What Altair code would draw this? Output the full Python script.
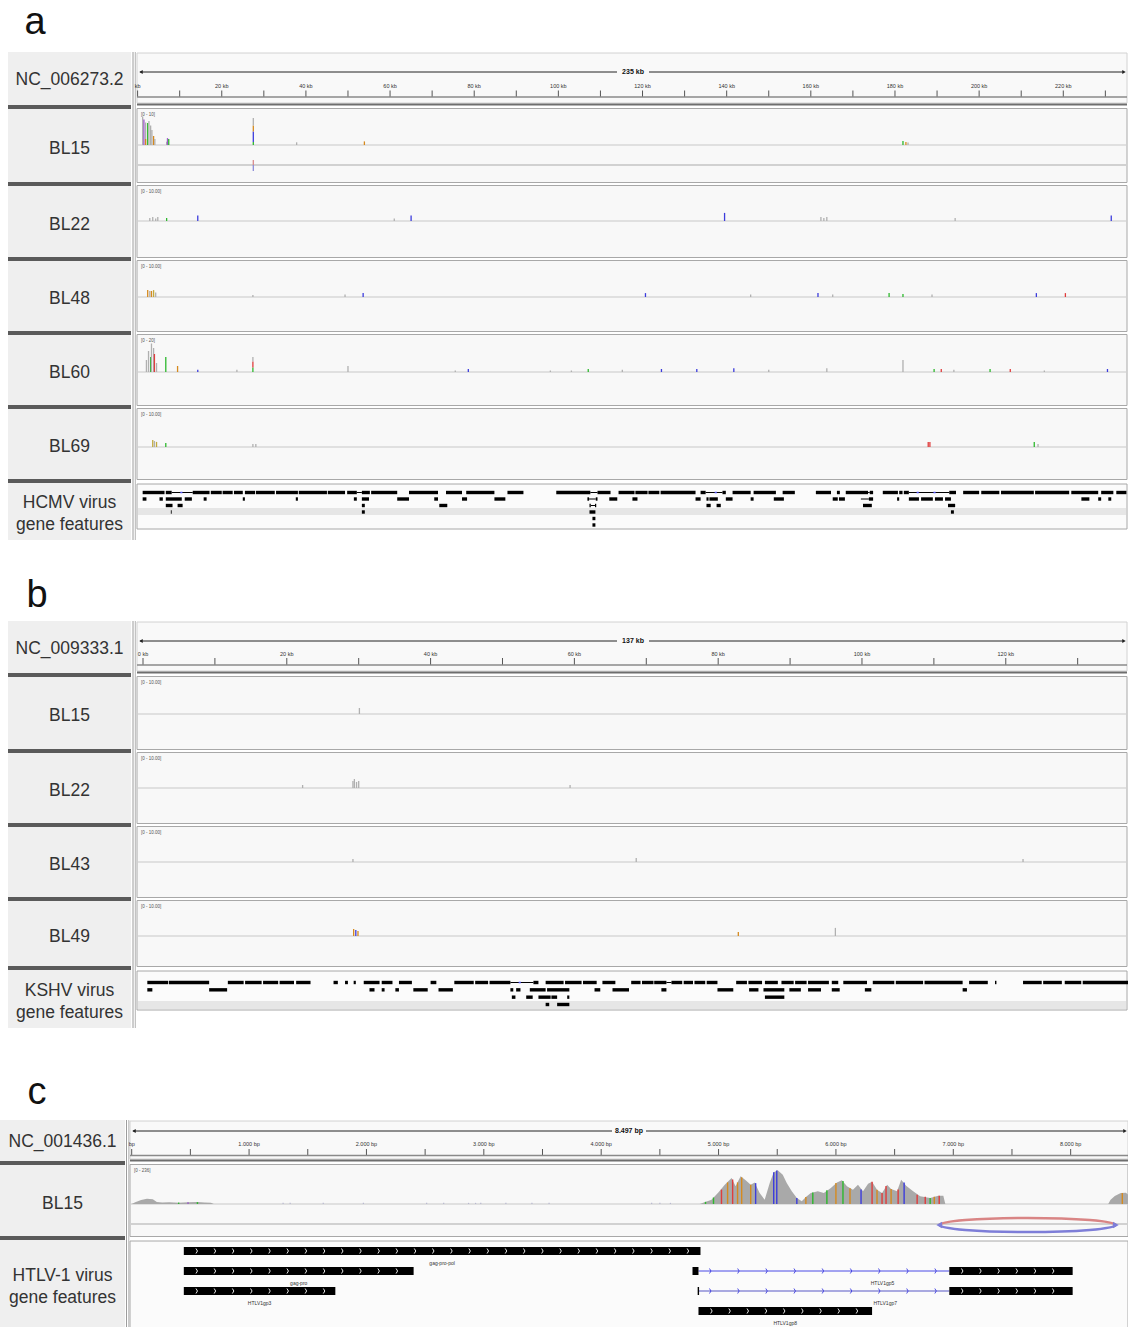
import altair as alt
import numpy as np
import pandas as pd

FONT = "Liberation Sans"
ONE = pd.DataFrame({"k": [0]})

BASE_COLORS = {"cov": "#b0b0b0", "A": "#2db82d", "C": "#3c3cdc", "G": "#d68a1e",
               "T": "#e03c3c", "P": "#9b59c9", "Y": "#c2a93a",
               "Tr": "#d98c8c", "Cr": "#8c8cd9", "S": "#b8b8d0"}

# ================= panel a : HCMV NC_006273.2 (positions in kb) =================
A_TICKS = [0, 10, 20, 30, 40, 50, 60, 70, 80, 90, 100, 110, 120, 130, 140, 150,
           160, 170, 180, 190, 200, 210, 220, 230]
A_LABEL_POS = [0, 20, 40, 60, 80, 100, 120, 140, 160, 180, 200, 220]
A_LABEL_TXT = ["kb", "20 kb", "40 kb", "60 kb", "80 kb", "100 kb", "120 kb",
               "140 kb", "160 kb", "180 kb", "200 kb", "220 kb"]

# (position kb, low, high, base)
A_BL15 = [(1.2, 0, 9.5, "cov"), (1.5, 0, 8.5, "P"), (1.9, 0, 7.5, "cov"), (1.9, 0, 2, "G"),
          (2.4, 0, 7.3, "A"), (2.7, 0, 8, "cov"),
          (3.1, 0, 6.5, "cov"), (3.4, 0, 5, "cov"), (3.8, 0, 3, "G"), (4.1, 0, 2, "cov"),
          (6.9, 0, 1.1, "cov"), (7.1, 0, 2.3, "P"), (7.4, 0, 2, "A"),
          (27.5, 0, 1, "A"), (27.5, 1, 4.5, "C"), (27.5, 4.5, 6.5, "G"), (27.5, 6.5, 9, "cov"),
          (37.8, 0, 0.9, "cov"), (53.9, 0, 1.2, "G"), (181.9, 0, 1.3, "A"),
          (182.6, 0, 1.0, "G"), (183.1, 0, 0.8, "cov"),
          (27.5, -5, -6.7, "Tr"), (27.5, -6.7, -8.7, "Cr")]
A_BL22 = [(2.9, 0, 1.0, "cov"), (3.6, 0, 1.3, "cov"), (4.3, 0, 0.8, "cov"), (4.8, 0, 1.3, "cov"),
          (6.9, 0, 1.0, "A"), (14.3, 0, 1.8, "C"), (61.0, 0, 0.8, "cov"), (65.0, 0, 1.8, "C"),
          (139.5, 0, 2.7, "C"), (162.4, 0, 1.3, "cov"), (163.1, 0, 1.0, "cov"),
          (163.8, 0, 1.3, "cov"), (194.3, 0, 1.0, "cov"), (231.4, 0, 1.8, "C")]
A_BL48 = [(2.4, 0, 2.3, "G"), (2.9, 0, 2.0, "cov"), (3.3, 0, 2.0, "G"), (3.8, 0, 2.3, "Y"),
          (4.3, 0, 1.5, "cov"), (27.4, 0, 0.7, "cov"), (49.3, 0, 0.8, "cov"), (53.6, 0, 1.3, "C"),
          (120.7, 0, 1.3, "C"), (145.7, 0, 0.8, "cov"), (161.7, 0, 1.3, "C"), (165.2, 0, 0.8, "cov"),
          (178.6, 0, 1.3, "A"), (181.9, 0, 1.0, "A"), (188.8, 0, 0.8, "cov"), (213.6, 0, 1.3, "C"),
          (220.5, 0, 1.3, "T")]
A_BL60 = [(2.1, 0, 8, "cov"), (2.6, 0, 14, "cov"), (3.1, 0, 10, "A"), (3.3, 0, 19, "cov"),
          (3.8, 0, 16, "cov"), (4.0, 0, 12, "T"), (4.5, 0, 6, "cov"), (6.7, 0, 10, "A"),
          (9.5, 0, 4, "G"), (14.3, 0, 1.5, "C"), (23.6, 0, 1.5, "cov"),
          (27.4, 0, 3, "A"), (27.4, 3, 7, "T"), (27.4, 7, 10, "cov"),
          (50.0, 0, 4, "cov"), (75.5, 0, 1, "cov"), (78.6, 0, 2, "C"), (98.1, 0, 1, "cov"),
          (103.1, 0, 1, "cov"), (107.1, 0, 2, "A"), (115.2, 0, 1.5, "cov"), (124.5, 0, 2, "C"),
          (132.9, 0, 2, "C"), (141.7, 0, 2.5, "C"), (150.0, 0, 1.5, "cov"), (163.8, 0, 2.5, "cov"),
          (181.9, 0, 8, "cov"), (189.3, 0, 2, "A"), (191.0, 0, 2, "T"), (194.0, 0, 1.5, "cov"),
          (202.6, 0, 2, "A"), (207.4, 0, 2, "T"), (215.5, 0, 1, "cov"), (230.5, 0, 2, "C")]
A_BL69 = [(3.6, 0, 2.3, "Y"), (4.0, 0, 2.0, "cov"), (4.5, 0, 1.7, "Y"), (6.7, 0, 1.3, "A"),
          (27.4, 0, 1, "cov"), (28.1, 0, 1, "cov"), (187.9, 0, 1.7, "T"), (188.3, 0, 1.7, "T"),
          (213.1, 0, 1.7, "A"), (214.0, 0, 1, "cov")]

A_FEAT_ROWS = [
    [(1.2, 6.4), (6.7, 8.1), (13.1, 17.1), (17.4, 20.0), (20.2, 22.6), (22.9, 25.0), (25.5, 27.9),
     (28.1, 32.6), (32.9, 38.1), (38.3, 45.0), (45.2, 49.3), (49.8, 52.1), (53.3, 55.2), (55.5, 61.7),
     (64.5, 71.4), (73.3, 77.1), (78.1, 84.8), (87.9, 91.7), (99.5, 107.6), (109.3, 112.4),
     (114.3, 118.1), (118.3, 121.2), (121.4, 124.0), (124.3, 132.6), (133.8, 135.0), (139.0, 139.8),
     (141.4, 145.7), (146.4, 151.7), (153.3, 156.2), (161.2, 164.8), (166.2, 166.9), (168.3, 173.6),
     (174.0, 174.8), (177.1, 180.7), (181.0, 181.8), (182.1, 183.3), (192.9, 194.5), (196.2, 200.0),
     (200.5, 204.8), (205.2, 213.0), (213.3, 221.4), (221.9, 228.3), (229.0, 231.9), (232.6, 235.0)],
    [(1.2, 2.1), (5.2, 6.0), (6.7, 10.5), (11.2, 12.9), (15.7, 16.4), (25.0, 25.5), (37.6, 38.1),
     (51.4, 52.1), (53.3, 55.0), (61.7, 64.5), (70.5, 71.4), (77.1, 78.3), (84.8, 87.4), (106.9, 107.3),
     (108.9, 109.3), (112.1, 114.0), (117.6, 118.8), (132.6, 133.8), (135.2, 135.7), (135.9, 137.9),
     (139.8, 141.4), (145.7, 146.4), (151.2, 153.6), (165.2, 166.4), (166.7, 168.1), (173.8, 174.8),
     (180.5, 181.0), (183.3, 185.7), (186.2, 189.0), (189.5, 191.4), (191.9, 193.3), (224.3, 226.2),
     (228.3, 229.0), (230.7, 231.4)],
    [(6.7, 8.3), (9.5, 10.7), (53.3, 54.0), (71.7, 73.6), (107.4, 107.7), (108.7, 109.0),
     (135.2, 136.2), (137.6, 138.6), (172.4, 174.5), (192.6, 194.3)],
    [(7.9, 8.1), (53.3, 54.0), (107.4, 108.8), (193.3, 194.0)],
    [(108.1, 108.8)],
    [(108.1, 108.8)],
]
A_INTRONS = [(8.1, 13.1, 0), (52.1, 53.3, 0), (107.6, 109.3, 0), (135.0, 139.0, 0), (173.6, 174.0, 0),
             (183.3, 192.9, 0), (107.3, 108.9, 1), (171.9, 173.8, 1), (107.7, 108.7, 2)]
A_STRAND_MARKS = [(10.4, 0), (137.4, 0), (185.4, 0), (189.4, 0)]

# ================= panel b : KSHV NC_009333.1 (kb) =================
B_TICKS = [0, 10, 20, 30, 40, 50, 60, 70, 80, 90, 100, 110, 120, 130]
B_LABEL_POS = [0, 20, 40, 60, 80, 100, 120]
B_LABEL_TXT = ["0 kb", "20 kb", "40 kb", "60 kb", "80 kb", "100 kb", "120 kb"]
B_BL15 = [(30.1, 0, 2.0, "cov")]
B_BL22 = [(22.2, 0, 1.0, "cov"), (29.2, 0, 2.3, "cov"), (29.4, 0, 3.0, "cov"), (29.7, 0, 2.0, "cov"),
          (30.0, 0, 2.3, "cov"), (59.4, 0, 1.0, "cov")]
B_BL43 = [(29.2, 0, 1.0, "cov"), (68.6, 0, 1.3, "cov"), (122.4, 0, 1.0, "cov")]
B_BL49 = [(29.3, 0, 2.3, "G"), (29.6, 0, 2.0, "C"), (29.9, 0, 1.7, "G"), (82.8, 0, 1.3, "G"),
          (96.3, 0, 2.7, "cov")]
B_FEAT_ROWS = [
    [(0.6, 3.5), (3.6, 9.2), (11.8, 14.0), (14.2, 16.5), (16.7, 18.8), (19.0, 21.0), (21.3, 23.3),
     (26.5, 27.1), (28.1, 28.5), (29.3, 29.6), (30.7, 32.9), (33.2, 34.7), (35.6, 37.4), (40.0, 40.8),
     (43.3, 46.0), (46.2, 48.0), (48.2, 51.1), (54.3, 55.0), (56.0, 58.5), (58.7, 61.0), (61.2, 63.1),
     (63.9, 65.7), (67.9, 69.2), (69.4, 71.0), (71.1, 72.8), (73.5, 75.0), (75.2, 76.5), (76.7, 78.2),
     (78.4, 79.9), (82.5, 84.0), (84.2, 86.1), (86.5, 88.3), (88.8, 90.5), (90.7, 92.3), (92.5, 95.4),
     (95.8, 96.7), (97.4, 100.7), (101.5, 104.5), (104.7, 108.5), (108.7, 114.0), (114.9, 117.5),
     (118.5, 118.7), (122.4, 125.0), (125.2, 127.8), (128.2, 130.5), (130.7, 137.0)],
    [(0.6, 1.3), (9.2, 11.7), (31.5, 32.2), (33.2, 33.6), (35.1, 35.6), (37.6, 39.6), (41.1, 43.1),
     (51.1, 51.5), (51.9, 52.5), (53.8, 56.0), (56.2, 59.3), (62.8, 63.6), (65.3, 67.6), (72.1, 72.8),
     (79.9, 82.1), (84.3, 85.6), (86.3, 89.2), (89.9, 91.5), (92.5, 94.3), (95.8, 96.9), (100.4, 101.3),
     (114.0, 114.6)],
    [(51.3, 51.8), (53.3, 54.2), (55.0, 56.7), (56.8, 57.6), (59.0, 59.3), (86.5, 89.2)],
    [(56.0, 56.5), (57.6, 59.3)],
]
B_INTRONS = [(51.1, 54.3, 0), (72.8, 73.5, 0)]
B_STRAND_MARKS = [(52.4, 0)]

# ================= panel c : HTLV-1 NC_001436.1 (bp) =================
C_TICKS = [0, 500, 1000, 1500, 2000, 2500, 3000, 3500, 4000, 4500, 5000, 5500, 6000,
           6500, 7000, 7500, 8000]
C_LABEL_POS = [0, 1000, 2000, 3000, 4000, 5000, 6000, 7000, 8000]
C_LABEL_TXT = ["bp", "1.000 bp", "2.000 bp", "3.000 bp", "4.000 bp", "5.000 bp",
               "6.000 bp", "7.000 bp", "8.000 bp"]
C_COV = [(0, 0), (30, 12), (80, 28), (130, 37), (180, 33), (214, 14), (260, 10), (320, 13), (400, 9),
         (480, 12), (560, 14), (620, 10), (675, 8), (700, 0),
         (4840, 0), (4863, 7), (4940, 30), (5000, 81), (5051, 132), (5111, 180), (5145, 123),
         (5188, 192), (5231, 164), (5274, 134), (5308, 150), (5350, 76), (5393, 30), (5436, 146),
         (5470, 220), (5504, 234), (5547, 203), (5581, 146), (5624, 88), (5667, 42), (5709, 19),
         (5744, 49), (5786, 76), (5846, 88), (5897, 76), (5957, 111), (6009, 150), (6051, 164),
         (6094, 123), (6145, 99), (6188, 134), (6231, 88), (6274, 141), (6308, 155), (6350, 99),
         (6393, 76), (6436, 134), (6470, 104), (6521, 88), (6556, 169), (6598, 127), (6658, 88),
         (6718, 53), (6803, 42), (6872, 58), (6915, 58), (6932, 0),
         (8320, 0), (8340, 30), (8376, 55), (8427, 76), (8470, 78), (8497, 60)]
C_MISMATCH = [(400, 0, 10, "A"), (480, 0, 12, "P"), (560, 0, 13, "A"),
              (4889, 0, 15, "A"), (4957, 0, 45, "A"), (5025, 0, 100, "T"), (5077, 0, 150, "G"),
              (5120, 0, 170, "T"), (5162, 0, 150, "G"), (5197, 0, 185, "G"), (5274, 0, 134, "G"),
              (5316, 0, 145, "C"), (5470, 0, 220, "C"), (5496, 0, 232, "C"), (5667, 0, 42, "C"),
              (5744, 0, 49, "G"), (5803, 0, 80, "A"), (5923, 0, 95, "A"), (6000, 0, 145, "G"),
              (6060, 0, 160, "A"), (6120, 0, 110, "G"), (6214, 0, 100, "C"), (6308, 0, 155, "T"),
              (6350, 0, 99, "G"), (6393, 0, 76, "T"), (6427, 0, 125, "T"), (6470, 0, 104, "G"),
              (6530, 0, 100, "T"), (6581, 0, 150, "C"), (6692, 0, 65, "T"), (6761, 0, 50, "T"),
              (6803, 0, 42, "A"), (6838, 0, 50, "G"), (6880, 0, 58, "T"), (8440, 0, 76, "G")]
C_SMALL = [(1290, 0, 8, "S"), (1350, 0, 8, "S"), (1632, 0, 8, "S"), (1974, 0, 8, "S"),
           (2513, 0, 8, "S"), (2658, 0, 8, "S"), (2870, 0, 8, "S"), (2930, 0, 8, "S"),
           (2974, 0, 8, "S"), (3188, 0, 8, "S"), (3410, 0, 8, "S"), (3556, 0, 8, "S"),
           (4430, 0, 8, "S"), (4500, 0, 8, "S"), (4590, 0, 8, "S")]
C_READ_PAIR = [(6880, 8385)]
C_BLOCKS = [(444, 4846, 0), (444, 2402, 1), (444, 1735, 2), (4778, 4829, 1), (6966, 8017, 1),
            (6966, 8017, 2), (4822, 4834, 2), (4829, 6308, 3)]
C_INTRONS = [(4829, 6966, 1), (4829, 6966, 2)]
C_NAMES = ["gag-pro-pol", "gag-pro", "HTLV1gp3", "HTLV1gp5", "HTLV1gp7", "HTLV1gp8"]
C_NAME_POS = [2645, 1423, 1090, 6397, 6420, 5568]
C_NAME_ROW = [0, 1, 2, 1, 2, 3]

# ================= scales =================
XA = alt.Scale(domain=[0, 235], range=[137.6, 1126.4], nice=False, zero=False)
XB = alt.Scale(domain=[0, 137], range=[143, 1128], nice=False, zero=False)
XC = alt.Scale(domain=[0, 8497], range=[131.7, 1129], nice=False, zero=False)

layers = []


def rect(x0, x1, y0, y1, fill, stroke=None, sw=1.0):
    props = {"fill": fill}
    if stroke is not None:
        props["stroke"] = stroke
        props["strokeWidth"] = sw
    else:
        props["strokeWidth"] = 0
    layers.append(alt.Chart(ONE).mark_rect(**props).encode(
        x=alt.value(x0), x2=alt.value(x1), y=alt.value(y0), y2=alt.value(y1)))


def hline(x0, x1, y, color, sw=1.0):
    layers.append(alt.Chart(ONE).mark_rule(color=color, strokeWidth=sw).encode(
        x=alt.value(x0), x2=alt.value(x1), y=alt.value(y)))


def vline(x, y0, y1, color, sw=1.0):
    layers.append(alt.Chart(ONE).mark_rule(color=color, strokeWidth=sw).encode(
        x=alt.value(x), y=alt.value(y0), y2=alt.value(y1)))


def label(x, y, s, size, color="#333333", weight="normal", align="center", baseline="middle"):
    layers.append(alt.Chart(ONE).mark_text(
        text=s, font=FONT, fontSize=size, color=color, fontWeight=weight,
        align=align, baseline=baseline).encode(x=alt.value(x), y=alt.value(y)))


def tri(x, y, shape, color, size=18):
    layers.append(alt.Chart(ONE).mark_point(shape=shape, filled=True, size=size, color=color,
                                            opacity=1).encode(x=alt.value(x), y=alt.value(y)))


def coverage(bars, xs, ymax, base, px=30, sw=1.3):
    df = pd.DataFrame(bars, columns=["pos", "lo", "hi", "b"])
    df["col"] = df["b"].map(BASE_COLORS)
    layers.append(alt.Chart(df).mark_rule(strokeWidth=sw).encode(
        x=alt.X("pos:Q", scale=xs, axis=None),
        y=alt.Y("hi:Q", scale=alt.Scale(domain=[0, ymax], range=[base, base - px],
                                         nice=False, zero=False), axis=None),
        y2="lo:Q",
        color=alt.Color("col:N", scale=None)))


def rows_scale(nrows, ylo, yhi):
    return alt.Scale(domain=[0, nrows - 1], range=[ylo, yhi], nice=False, zero=False)


def feats(blocks, xs, ys, sw, color="#000000"):
    df = pd.DataFrame(blocks, columns=["s", "e", "row"])
    layers.append(alt.Chart(df).mark_rule(strokeWidth=sw, color=color, strokeCap="butt").encode(
        x=alt.X("s:Q", scale=xs, axis=None), x2="e:Q",
        y=alt.Y("row:Q", scale=ys, axis=None)))


def ruler(xs, ticks, lpos, ltxt, title, title_x, y_arrow, y_lab, y_t0, y_t1, dx0, dx1, gap):
    hline(dx0 + 3, title_x - gap, y_arrow, "#222222", 1)
    hline(title_x + gap, dx1 - 3, y_arrow, "#222222", 1)
    tri(dx0 + 4, y_arrow, "triangle-left", "#222222", 16)
    tri(dx1 - 3, y_arrow, "triangle-right", "#222222", 16)
    label(title_x, y_arrow, title, 7, "#111111", "bold")
    layers.append(alt.Chart(pd.DataFrame({"p": ticks})).mark_rule(color="#555555", strokeWidth=1).encode(
        x=alt.X("p:Q", scale=xs, axis=None), y=alt.value(y_t0), y2=alt.value(y_t1)))
    layers.append(alt.Chart(pd.DataFrame({"p": lpos, "t": ltxt})).mark_text(
        font=FONT, fontSize=5.5, color="#333333", baseline="middle").encode(
        x=alt.X("p:Q", scale=xs, axis=None), y=alt.value(y_lab), text="t:N"))
    hline(dx0, dx1, y_t1, "#8a8a8a", 1.3)


def panel(letter, letter_xy, lx0, lx1, dx0, dx1, head, head_name, bars_y, tracks, feat_box,
          feat_data, feat_text, vx):
    lxc = (lx0 + lx1) / 2
    label(letter_xy[0], letter_xy[1], letter, 38, "#111111", baseline="alphabetic")
    # header
    rect(lx0, lx1, head[0], head[1], "#efefef")
    rect(dx0, dx1, head[0] + 1, head[1] - 2, "#f9f9f9", "#d2d2d2", 1)
    hline(dx0, dx1, head[1] - 0.5, "#6e6e6e", 2)
    label(lxc, (head[0] + head[1]) / 2 + 1.5, head_name, 17.5)
    # tracks
    for (name, y0, y1, base, rng, ymax, bars, second) in tracks:
        rect(lx0, lx1, y0, y1, "#efefef")
        rect(dx0, dx1, y0 - 0.5, y1 + 0.5, "#f8f8f8", "#a8a8a8", 1)
        hline(dx0 + 1, dx1 - 1, base, "#c8c8c8", 1)
        if second is not None:
            hline(dx0 + 1, dx1 - 1, second, "#c4c4c4", 1.5)
        label(lxc, (y0 + y1) / 2 + 3, name, 17.5)
        label(dx0 + 4, y0 + 6, rng, 4.5, "#555555", align="left")
    # features
    rect(lx0, lx1, feat_box[0], feat_box[1], "#efefef")
    rect(dx0, dx1, feat_data[0], feat_data[1], "#fbfbfb", "#a8a8a8", 1)
    label(lxc, feat_text[0][1], feat_text[0][0], 17.5)
    label(lxc, feat_text[1][1], feat_text[1][0], 17.5)
    # dark separators of label column
    for (b0, b1) in bars_y:
        rect(lx0, lx1, b0, b1, "#5a5a5a")
    vline(vx, head[0], feat_box[1], "#9c9c9c", 1)
    vline(vx + 2.3, head[0], feat_box[1], "#b4b4b4", 1)


# ------------------------------ panel a ------------------------------
A_TRACKS = [("BL15", 109, 182, 145, "[0 - 10]", 10, A_BL15, 165),
            ("BL22", 186, 257, 221, "[0 - 10.00]", 10, A_BL22, None),
            ("BL48", 261, 331, 297, "[0 - 10.00]", 10, A_BL48, None),
            ("BL60", 335, 405, 372, "[0 - 20]", 20, A_BL60, None),
            ("BL69", 409, 479, 447, "[0 - 10.00]", 10, A_BL69, None)]
panel("a", (35, 34), 8, 131, 137, 1127, (52, 105), "NC_006273.2",
      [(105, 109), (182, 186), (257, 261), (331, 335), (405, 409), (479, 483)],
      A_TRACKS, (483, 540), (484, 529), [("HCMV virus", 503), ("gene features", 525)], 133)
ruler(XA, A_TICKS, A_LABEL_POS, A_LABEL_TXT, "235 kb", 633, 72, 86, 90.5, 97, 137, 1127, 16)
for (_, y0, y1, base, rng, ymax, bars, second) in A_TRACKS:
    coverage(bars, XA, ymax, base)
rect(138, 1126, 508, 515, "#e6e6e6")
YA = rows_scale(6, 492.5, 525)
feats([(s, e, r) for r, lst in enumerate(A_FEAT_ROWS) for (s, e) in lst], XA, YA, 3.4)
feats(A_INTRONS, XA, YA, 1)
feats([(p - 0.25, p + 0.25, r) for (p, r) in A_STRAND_MARKS], XA, YA, 1.5, "#5a5aff")

# ------------------------------ panel b ------------------------------
B_TRACKS = [("BL15", 677, 749, 714, "[0 - 10.00]", 10, B_BL15, None),
            ("BL22", 753, 823, 788, "[0 - 10.00]", 10, B_BL22, None),
            ("BL43", 827, 897, 862, "[0 - 10.00]", 10, B_BL43, None),
            ("BL49", 901, 966, 936, "[0 - 10.00]", 10, B_BL49, None)]
panel("b", (37, 607), 8, 131, 137, 1127, (621, 673), "NC_009333.1",
      [(673, 677), (749, 753), (823, 827), (897, 901), (966, 970)],
      B_TRACKS, (970, 1028), (971, 1010), [("KSHV virus", 991), ("gene features", 1013)], 133)
ruler(XB, B_TICKS, B_LABEL_POS, B_LABEL_TXT, "137 kb", 633, 641, 654, 658, 665, 137, 1127, 16)
for (_, y0, y1, base, rng, ymax, bars, second) in B_TRACKS:
    coverage(bars, XB, ymax, base)
rect(138, 1126, 1001, 1009, "#e6e6e6")
YB = rows_scale(4, 982.5, 1004.5)
feats([(s, e, r) for r, lst in enumerate(B_FEAT_ROWS) for (s, e) in lst], XB, YB, 3.4)
feats(B_INTRONS, XB, YB, 1)
feats([(p - 0.15, p + 0.15, r) for (p, r) in B_STRAND_MARKS], XB, YB, 1.5, "#5a5aff")

# ------------------------------ panel c ------------------------------
C_TRACKS = [("BL15", 1165, 1236, 1204, "[0 - 236]", 236, [], 1224)]
panel("c", (37, 1104), 0, 125, 130, 1128, (1120, 1161), "NC_001436.1",
      [(1161, 1165), (1236, 1240)],
      C_TRACKS, (1240, 1327), (1241, 1328), [("HTLV-1 virus", 1276), ("gene features", 1298)], 126.5)
ruler(XC, C_TICKS, C_LABEL_POS, C_LABEL_TXT, "8.497 bp", 629, 1131, 1144, 1149, 1155.5, 130, 1128, 17)

YC = alt.Scale(domain=[0, 236], range=[1204, 1170], nice=False, zero=False)
dfc = pd.DataFrame(C_COV, columns=["pos", "cov"])
dfc["z"] = 0
layers.append(alt.Chart(dfc).mark_area(color="#a9a9a9", interpolate="linear").encode(
    x=alt.X("pos:Q", scale=XC, axis=None), y=alt.Y("cov:Q", scale=YC, axis=None), y2="z:Q"))
coverage(C_MISMATCH, XC, 236, 1204, 34, 1.4)
coverage(C_SMALL, XC, 236, 1204, 34, 1.2)

# read pair drawn as an ellipse-like arc
TOP_ARC = "M -1 0 C -1 -0.044 -0.552 -0.08 0 -0.08 C 0.552 -0.08 1 -0.044 1 0"
BOT_ARC = "M -1 0 C -1 0.044 -0.552 0.08 0 0.08 C 0.552 0.08 1 0.044 1 0"
dfp = pd.DataFrame(C_READ_PAIR, columns=["s", "e"])
basep = alt.Chart(dfp).transform_calculate(mid="(datum.s + datum.e) / 2")
layers.append(basep.mark_point(shape=TOP_ARC, size=31000, filled=False, stroke="#d98585",
                               strokeWidth=2.6, opacity=1).encode(
    x=alt.X("mid:Q", scale=XC, axis=None), y=alt.value(1225)))
layers.append(basep.mark_point(shape=BOT_ARC, size=31000, filled=False, stroke="#7e7ed8",
                               strokeWidth=2.6, opacity=1).encode(
    x=alt.X("mid:Q", scale=XC, axis=None), y=alt.value(1225)))
layers.append(alt.Chart(dfp).mark_point(shape="triangle-left", filled=True, size=45, color="#7e7ed8",
                                        opacity=1).encode(
    x=alt.X("s:Q", scale=XC, axis=None), y=alt.value(1225)))
layers.append(alt.Chart(dfp).mark_point(shape="triangle-right", filled=True, size=45, color="#7e7ed8",
                                        opacity=1).encode(
    x=alt.X("e:Q", scale=XC, axis=None), y=alt.value(1225)))

# HTLV-1 gene features
YCF = rows_scale(4, 1251, 1311)
feats(C_INTRONS[:1], XC, YCF, 1, "#4a4ae6")
layers.append(alt.Chart(pd.DataFrame([C_INTRONS[1]], columns=["s", "e", "row"])).mark_rule(
    strokeWidth=2, color="#a9a9e0").encode(
    x=alt.X("s:Q", scale=XC, axis=None), x2="e:Q", y=alt.Y("row:Q", scale=YCF, axis=None)))
feats(C_BLOCKS, XC, YCF, 8)

CHEV = "M -0.3 -1 L 0.3 0 L -0.3 1"
chev_w, chev_b = [], []
for (s, e, r) in C_BLOCKS:
    if e - s > 300:
        for p in np.arange(s + 110, e - 60, 155):
            chev_w.append((float(p), r))
for (s, e, r) in C_INTRONS:
    for p in np.arange(s + 100, e - 40, 240):
        chev_b.append((float(p), r))
for pts, col in ((chev_w, "#ffffff"), (chev_b, "#3c3ce0")):
    layers.append(alt.Chart(pd.DataFrame(pts, columns=["p", "row"])).mark_point(
        shape=CHEV, size=25, filled=False, stroke=col, strokeWidth=0.9, opacity=1).encode(
        x=alt.X("p:Q", scale=XC, axis=None), y=alt.Y("row:Q", scale=YCF, axis=None)))

dfn = pd.DataFrame({"t": C_NAMES, "p": C_NAME_POS, "row": C_NAME_ROW})
YCL = rows_scale(4, 1263, 1323)
layers.append(alt.Chart(dfn).mark_text(font=FONT, fontSize=5, color="#333333", baseline="middle").encode(
    x=alt.X("p:Q", scale=XC, axis=None), y=alt.Y("row:Q", scale=YCL, axis=None), text="t:N"))

chart = alt.layer(*layers).resolve_scale(
    x="independent", y="independent", color="independent"
).properties(
    width=1128, height=1327, autosize=alt.AutoSizeParams(type="none"), padding=0,
    background="white"
).configure_view(stroke=None)

chart.save("out.html", embed_options={"renderer": "svg", "actions": False})
